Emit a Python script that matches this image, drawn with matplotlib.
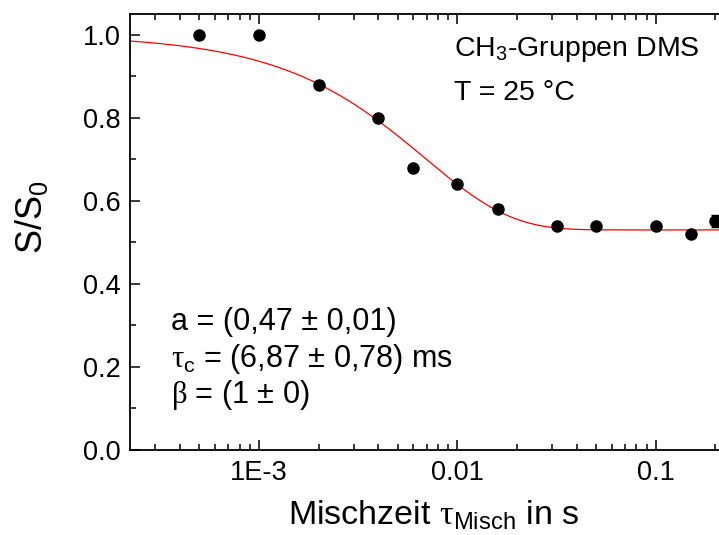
import numpy as np
import matplotlib
matplotlib.use("Agg")
import matplotlib.pyplot as plt
from matplotlib.ticker import MultipleLocator, LogLocator, NullFormatter

plt.rcParams['font.family'] = ['Liberation Sans', 'DejaVu Sans']
plt.rcParams['mathtext.fontset'] = 'custom'
plt.rcParams['mathtext.rm'] = 'Liberation Sans'
plt.rcParams['mathtext.it'] = 'Liberation Sans'
plt.rcParams['mathtext.bf'] = 'Liberation Serif'
plt.rcParams['mathtext.default'] = 'rm'

# data
t_misch = [5e-4, 1e-3, 2e-3, 4e-3, 6e-3, 1e-2, 1.6e-2, 3.2e-2, 5e-2, 1e-1, 1.5e-1, 2e-1]
s_s0 = [1.00, 1.00, 0.88, 0.80, 0.68, 0.64, 0.58, 0.54, 0.54, 0.54, 0.52, 0.552]
s_err = [0, 0, 0, 0, 0, 0, 0, 0, 0, 0, 0, 0.015]

# fit parameters
fit_a = 0.47
fit_tau = 6.87e-3
fit_beta = 1.0

x_ticks = [1e-3, 1e-2, 1e-1]
x_ticklabels = ['1E-3', '0.01', '0.1']
y_ticks = [0.0, 0.2, 0.4, 0.6, 0.8, 1.0]
y_ticklabels = ['0.0', '0.2', '0.4', '0.6', '0.8', '1.0']

W, H = 719, 535
fig = plt.figure(figsize=(W / 100, H / 100), dpi=100)
ax_left, ax_right, ax_top, ax_bottom = 130, 854, 14, 450
ax = fig.add_axes([ax_left / W, (H - ax_bottom) / H, (ax_right - ax_left) / W, (ax_bottom - ax_top) / H])

ax.set_xscale('log')
ax.set_xlim(2.24e-4, 1.0)
ax.set_ylim(0, 1.05)

tt = np.logspace(np.log10(2.24e-4), 0, 400)
fit = 1 - fit_a * (1 - np.exp(-(tt / fit_tau) ** fit_beta))
ax.plot(tt, fit, color='#ff0000', lw=0.9, zorder=2)

ax.errorbar(t_misch, s_s0, yerr=s_err, fmt='o', color='black', ms=8, capsize=3,
            elinewidth=1, capthick=1, zorder=3)

ax.set_xticks(x_ticks)
ax.set_xticklabels(x_ticklabels)
ax.xaxis.set_minor_locator(LogLocator(base=10, subs=np.arange(2, 10)))
ax.xaxis.set_minor_formatter(NullFormatter())
ax.set_yticks(y_ticks)
ax.set_yticklabels(y_ticklabels)
ax.yaxis.set_minor_locator(MultipleLocator(0.1))

for s in ax.spines.values():
    s.set_linewidth(1.3)
ax.tick_params(which='both', direction='in', top=True, right=True, width=1.1,
               labelsize=19.5, pad=7, colors='black')
ax.tick_params(which='major', length=7)
ax.tick_params(which='minor', length=4)

# labels
fig.text(434 / W, 1 - 515 / H, r'Mischzeit $\mathbf{\tau}_\mathrm{Misch}$ in s', fontsize=24.5,
         ha='center', va='center')
fig.text(31 / W, 1 - 217 / H, r'S/S$_\mathrm{0}$', fontsize=26, rotation=90,
         ha='center', va='center')

fig.text(454 / W, 1 - 56 / H, r'CH$_\mathrm{3}$-Gruppen DMS', fontsize=20.5, ha='left', va='baseline')
fig.text(454 / W, 1 - 100 / H, 'T = 25 °C', fontsize=20.5, ha='left', va='baseline')

fig.text(171 / W, 1 - 330 / H, 'a = (0,47 ± 0,01)', fontsize=22, ha='left', va='baseline')
fig.text(171 / W, 1 - 367 / H, r'$\mathbf{\tau}_\mathrm{c}$ = (6,87 ± 0,78) ms', fontsize=22, ha='left', va='baseline')
fig.text(171 / W, 1 - 403 / H, r'$\mathbf{\beta}$ = (1 ± 0)', fontsize=22, ha='left', va='baseline')

fig.savefig('out.png', dpi=100)
